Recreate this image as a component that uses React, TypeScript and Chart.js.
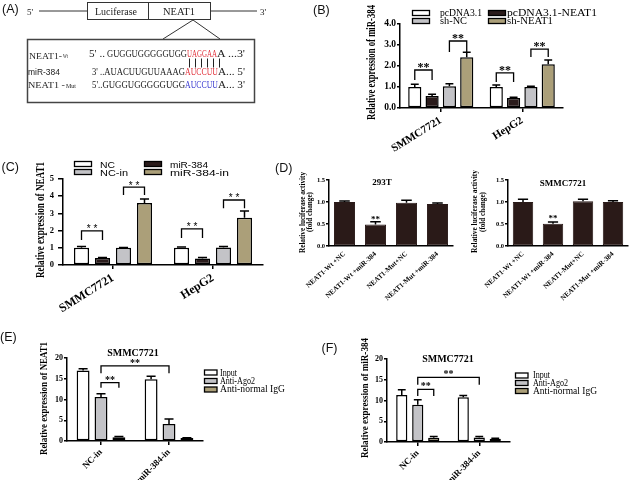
import React, { useEffect, useRef } from 'react';
import { Chart, registerables } from 'chart.js';

Chart.register(...registerables);

const SERIF = '"Liberation Serif", "Times New Roman", serif';
const SANS = '"Liberation Sans", Arial, sans-serif';

const WHITE = '#ffffff';
const BLACK = '#2a1b1b';
const GREY = '#c3c3c7';
const TAN = '#ab9f79';
const DARK = '#2a1a18';

// ---------------- Panel B data ----------------
const bCells = ['SMMC7721', 'HepG2'];
const bSeriesNames = ['pcDNA3.1', 'pcDNA3.1-NEAT1', 'sh-NC', 'sh-NEAT1'];
const bPcdna = [1.0, 1.0];
const bPcdnaErr = [0.13, 0.1];
const bPcdnaNeat1 = [0.57, 0.48];
const bPcdnaNeat1Err = [0.08, 0.03];
const bShNC = [1.03, 1.0];
const bShNCErr = [0.13, 0.03];
const bShNeat1 = [2.42, 2.08];
const bShNeat1Err = [0.23, 0.21];
const bBrackets = [
  { a: [0, 0], b: [1, 0], y: 1.81, leg: 1.33 },
  { a: [2, 0], b: [3, 0], y: 3.19, leg: 2.67 },
  { a: [0, 1], b: [1, 1], y: 1.67, leg: 1.24 },
  { a: [2, 1], b: [3, 1], y: 2.8, leg: 2.43 },
];

// ---------------- Panel C data ----------------
const cCells = ['SMMC7721', 'HepG2'];
const cSeriesNames = ['NC', 'miR-384', 'NC-in', 'miR-384-in'];
const cNC = [1.0, 1.0];
const cNCErr = [0.07, 0.04];
const cMiR = [0.4, 0.38];
const cMiRErr = [0.03, 0.05];
const cNCin = [1.0, 1.02];
const cNCinErr = [0.02, 0.06];
const cMiRin = [3.6, 2.74];
const cMiRinErr = [0.23, 0.4];
const cBrackets = [
  { a: [0, 0], b: [1, 0], y: 1.98, leg: 1.45 },
  { a: [2, 0], b: [3, 0], y: 4.53, leg: 4.07 },
  { a: [0, 1], b: [1, 1], y: 2.1, leg: 1.57 },
  { a: [2, 1], b: [3, 1], y: 3.78, leg: 3.3 },
];

// ---------------- Panel D data ----------------
const dGroups = ['NEAT1-Wt +NC', 'NEAT1-Wt +miR-384', 'NEAT1-Mut+NC', 'NEAT1-Mut +miR-384'];
const d293T = [1.0, 0.49, 0.985, 0.955];
const d293TErr = [0.025, 0.06, 0.055, 0.025];
const dSmmc = [1.0, 0.505, 1.015, 1.0];
const dSmmcErr = [0.06, 0.04, 0.045, 0.03];

// ---------------- Panel E / F data ----------------
const ripGroups = ['NC-in', 'miR-384-in'];
const ripSeriesNames = ['Input', 'Anti-Ago2', 'Anti-normal IgG'];
const eInput = [17.0, 14.9];
const eInputErr = [0.4, 0.7];
const eAgo2 = [10.6, 4.1];
const eAgo2Err = [0.8, 1.2];
const eIgG = [0.9, 0.7];
const eIgGErr = [0.2, 0.1];
const eBrackets = [
  { a: [1, 0], b: [1, 1], y: 18.1, leg: 16.3 },
  { a: [1, 0], b: [2, 0], y: 14.05, leg: 12.85 },
];
const fInput = [11.3, 10.8];
const fInputErr = [1.3, 0.4];
const fAgo2 = [9.0, 1.1];
const fAgo2Err = [1.2, 0.2];
const fIgG = [1.0, 0.8];
const fIgGErr = [0.3, 0.1];
const fBrackets = [
  { a: [1, 0], b: [1, 1], y: 15.55, leg: 13.8 },
  { a: [1, 0], b: [2, 0], y: 12.7, leg: 11.07 },
];

// ---------------- plugin ----------------
const extras = {
  id: 'extras',
  afterDraw(chart: any, _a: any, o: any) {
    const ctx = chart.ctx;
    const ys = chart.scales.y;
    const ox = o.ox || 0;
    const oy = o.oy || 0;
    ctx.save();
    ctx.strokeStyle = '#000';
    ctx.fillStyle = '#000';
    (o.errors || []).forEach((errs: number[], di: number) => {
      const meta = chart.getDatasetMeta(di);
      const data = chart.data.datasets[di].data;
      meta.data.forEach((bar: any, i: number) => {
        const e = errs[i];
        if (e == null) return;
        const y0 = ys.getPixelForValue(data[i]);
        const y1 = ys.getPixelForValue(data[i] + e);
        const half = bar.width * (o.capFrac ?? 0.3);
        ctx.lineWidth = o.errLine ?? 1.5;
        ctx.beginPath();
        ctx.moveTo(bar.x, y0);
        ctx.lineTo(bar.x, y1);
        ctx.moveTo(bar.x - half, y1);
        ctx.lineTo(bar.x + half, y1);
        ctx.stroke();
      });
    });
    (o.brackets || []).forEach((b: any) => {
      const xa = chart.getDatasetMeta(b.a[0]).data[b.a[1]].x;
      const xb = chart.getDatasetMeta(b.b[0]).data[b.b[1]].x;
      const yh = ys.getPixelForValue(b.y);
      const yl = ys.getPixelForValue(b.leg);
      ctx.lineWidth = o.bracketLine ?? 1.3;
      ctx.beginPath();
      ctx.moveTo(xa, yl);
      ctx.lineTo(xa, yh);
      ctx.lineTo(xb, yh);
      ctx.lineTo(xb, yl);
      ctx.stroke();
      ctx.font = o.starFont;
      ctx.textAlign = 'center';
      ctx.textBaseline = 'alphabetic';
      ctx.fillText(o.starText ?? '**', (xa + xb) / 2, yh + (o.starGap ?? 0));
    });
    (o.stars || []).forEach((s: any) => {
      const bar = chart.getDatasetMeta(s.ds).data[s.idx];
      ctx.font = o.starFont;
      ctx.textAlign = 'center';
      ctx.textBaseline = 'alphabetic';
      ctx.fillText(s.text, bar.x, ys.getPixelForValue(s.y));
    });
    (o.titles || []).forEach((t: any) => {
      ctx.font = t.font;
      ctx.textAlign = 'center';
      ctx.textBaseline = 'middle';
      ctx.fillText(t.text, t.x - ox, t.y - oy);
    });
    (o.ytitles || []).forEach((t: any) => {
      ctx.save();
      ctx.translate(t.x - ox, t.cy - oy);
      ctx.rotate(-Math.PI / 2);
      ctx.font = t.font;
      const w = ctx.measureText(t.text).width;
      ctx.scale(t.len / w, 1);
      ctx.textAlign = 'center';
      ctx.textBaseline = 'middle';
      ctx.fillText(t.text, 0, 0);
      ctx.restore();
    });
    ctx.restore();
  },
};

type Series = { name: string; data: number[]; err: number[]; color: string };

function makeConfig(p: any) {
  return {
    type: 'bar',
    data: {
      labels: p.labels,
      datasets: p.series.map((s: Series) => ({
        label: s.name,
        data: s.data,
        backgroundColor: s.color,
        borderColor: p.borderColor ?? '#000',
        borderWidth: p.borderWidth ?? 1.5,
        borderSkipped: false,
        categoryPercentage: p.cat,
        barPercentage: p.bar,
      })),
    },
    options: {
      responsive: false,
      animation: false,
      devicePixelRatio: 1,
      events: [],
      layout: { padding: { top: p.padTop, right: p.padRight, left: 0, bottom: 0 } },
      plugins: {
        legend: { display: false },
        tooltip: { enabled: false },
        extras: {
          ox: p.x,
          oy: p.y,
          errors: p.series.map((s: Series) => s.err),
          capFrac: p.capFrac,
          brackets: p.brackets,
          stars: p.stars,
          starFont: p.starFont,
          starText: p.starText,
          starGap: p.starGap,
          titles: p.titles,
          ytitles: p.ytitles,
        },
      },
      scales: {
        x: {
          type: 'category',
          grid: {
            offset: false,
            drawOnChartArea: false,
            drawTicks: p.xTicks !== false,
            tickLength: 4,
            color: '#000',
            lineWidth: 1.5,
          },
          border: { color: '#000', width: 1.5 },
          ticks: {
            color: '#000',
            autoSkip: false,
            minRotation: p.rot,
            maxRotation: p.rot,
            padding: p.xPad ?? 2,
            font: { family: SERIF, size: p.xFont, weight: 'bold' },
          },
          afterFit: (s: any) => {
            s.height = p.xh;
          },
        },
        y: {
          type: 'linear',
          min: p.yMin,
          max: p.yMax,
          grid: {
            drawOnChartArea: false,
            drawTicks: true,
            tickLength: p.yTickLen ?? 4,
            color: '#000',
            lineWidth: 1.5,
          },
          border: { color: '#000', width: 1.5 },
          ticks: {
            stepSize: p.yStep,
            color: '#000',
            padding: p.yPad ?? 1,
            font: { family: SERIF, size: p.yFont, weight: 'bold' },
            callback: (v: number) => (p.yDec ? v.toFixed(p.yDec) : String(v)),
          },
          afterFit: (s: any) => {
            s.width = p.yw;
          },
        },
      },
    },
    plugins: [extras],
  };
}

const PANEL_B = {
  id: 'B', x: 315, y: 0, w: 255, h: 165, yw: 85, xh: 57, padTop: 24, padRight: 7,
  labels: bCells,
  series: [
    { name: bSeriesNames[0], data: bPcdna, err: bPcdnaErr, color: WHITE },
    { name: bSeriesNames[1], data: bPcdnaNeat1, err: bPcdnaNeat1Err, color: BLACK },
    { name: bSeriesNames[2], data: bShNC, err: bShNCErr, color: GREY },
    { name: bSeriesNames[3], data: bShNeat1, err: bShNeat1Err, color: TAN },
  ],
  cat: 0.85, bar: 0.76, capFrac: 0.3,
  yMin: 0, yMax: 4, yStep: 0.5, yDec: 1, yFont: 9.5, yTickLen: 3, yPad: 1,
  rot: 32, xFont: 11,
  brackets: bBrackets, starFont: `bold 12px ${SERIF}`, starGap: 1,
  ytitles: [{ text: 'Relative expression of miR-384', x: 372, cy: 62.5, len: 115, font: `bold 12px ${SERIF}` }],
};

const PANEL_C = {
  id: 'C', x: 0, y: 150, w: 275, h: 165, yw: 63, xh: 50, padTop: 29, padRight: 12,
  labels: cCells,
  series: [
    { name: cSeriesNames[0], data: cNC, err: cNCErr, color: WHITE },
    { name: cSeriesNames[1], data: cMiR, err: cMiRErr, color: BLACK },
    { name: cSeriesNames[2], data: cNCin, err: cNCinErr, color: GREY },
    { name: cSeriesNames[3], data: cMiRin, err: cMiRinErr, color: TAN },
  ],
  cat: 0.84, bar: 0.72, capFrac: 0.3,
  yMin: 0, yMax: 5, yStep: 1, yDec: 0, yFont: 8.5, yTickLen: 5, yPad: 4,
  rot: 32, xFont: 12,
  brackets: cBrackets, starFont: `10px ${SANS}`, starText: '* *', starGap: 1.5,
  ytitles: [{ text: 'Relative expression of NEAT1', x: 40.5, cy: 220, len: 116, font: `bold 13px ${SERIF}` }],
};

const PANEL_D1 = {
  id: 'D1', x: 295, y: 165, w: 162, h: 155, yw: 34, xh: 74, padTop: 15, padRight: 4,
  labels: dGroups,
  series: [{ name: '293T', data: d293T, err: d293TErr, color: DARK }],
  borderColor: DARK, borderWidth: 1,
  cat: 0.68, bar: 1, capFrac: 0.25,
  yMin: 0, yMax: 1.5, yStep: 0.5, yDec: 1, yFont: 6.5, yTickLen: 3, yPad: 1,
  rot: 42, xFont: 7, xTicks: false, xPad: 4,
  stars: [{ ds: 0, idx: 1, y: 0.55, text: '**' }], starFont: `bold 9px ${SERIF}`,
  titles: [{ text: '293T', x: 382, y: 183, font: `bold 9px ${SERIF}` }],
  ytitles: [
    { text: 'Relative luciferase activity', x: 303.5, cy: 212.5, len: 81, font: `bold 7.5px ${SERIF}` },
    { text: '(fold change)', x: 310.5, cy: 212, len: 40, font: `bold 7.5px ${SERIF}` },
  ],
};

const PANEL_D2 = {
  id: 'D2', x: 466, y: 165, w: 166, h: 155, yw: 42, xh: 74, padTop: 15, padRight: 4,
  labels: dGroups,
  series: [{ name: 'SMMC7721', data: dSmmc, err: dSmmcErr, color: DARK }],
  borderColor: DARK, borderWidth: 1,
  cat: 0.68, bar: 1, capFrac: 0.25,
  yMin: 0, yMax: 1.5, yStep: 0.5, yDec: 1, yFont: 6.5, yTickLen: 3, yPad: 1,
  rot: 42, xFont: 7, xTicks: false, xPad: 4,
  stars: [{ ds: 0, idx: 1, y: 0.57, text: '**' }], starFont: `bold 9px ${SERIF}`,
  titles: [{ text: 'SMMC7721', x: 563, y: 184, font: `bold 9px ${SERIF}` }],
  ytitles: [
    { text: 'Relative luciferase activity', x: 475, cy: 211.5, len: 83, font: `bold 7.5px ${SERIF}` },
    { text: '(fold change)', x: 483, cy: 212, len: 40, font: `bold 7.5px ${SERIF}` },
  ],
};

const PANEL_E = {
  id: 'E', x: 0, y: 335, w: 210, h: 145, yw: 67, xh: 39, padTop: 23, padRight: 7,
  labels: ripGroups,
  series: [
    { name: ripSeriesNames[0], data: eInput, err: eInputErr, color: WHITE },
    { name: ripSeriesNames[1], data: eAgo2, err: eAgo2Err, color: GREY },
    { name: ripSeriesNames[2], data: eIgG, err: eIgGErr, color: TAN },
  ],
  cat: 0.79, bar: 0.72, capFrac: 0.35,
  yMin: 0, yMax: 20, yStep: 5, yDec: 0, yFont: 8, yTickLen: 3, yPad: 1,
  rot: 45, xFont: 9,
  brackets: eBrackets, starFont: `bold 10px ${SERIF}`, starGap: 0,
  titles: [{ text: 'SMMC7721', x: 133, y: 353, font: `bold 10px ${SERIF}` }],
  ytitles: [{ text: 'Relative expression of NEAT1', x: 44.5, cy: 398.5, len: 113, font: `bold 11px ${SERIF}` }],
};

const PANEL_F = {
  id: 'F', x: 320, y: 335, w: 195, h: 145, yw: 67, xh: 38, padTop: 24, padRight: 5,
  labels: ripGroups,
  series: [
    { name: ripSeriesNames[0], data: fInput, err: fInputErr, color: WHITE },
    { name: ripSeriesNames[1], data: fAgo2, err: fAgo2Err, color: GREY },
    { name: ripSeriesNames[2], data: fIgG, err: fIgGErr, color: TAN },
  ],
  cat: 0.78, bar: 0.7, capFrac: 0.35,
  yMin: 0, yMax: 20, yStep: 5, yDec: 0, yFont: 8, yTickLen: 3, yPad: 1,
  rot: 45, xFont: 9,
  brackets: fBrackets, starFont: `bold 10px ${SERIF}`, starGap: 0,
  titles: [{ text: 'SMMC7721', x: 448, y: 359, font: `bold 10px ${SERIF}` }],
  ytitles: [{ text: 'Relative expression of miR-384', x: 365, cy: 398, len: 120, font: `bold 11px ${SERIF}` }],
};

const PANELS = [PANEL_B, PANEL_C, PANEL_D1, PANEL_D2, PANEL_E, PANEL_F];

function BarPanel({ p }: { p: any }) {
  const ref = useRef<HTMLCanvasElement>(null);
  useEffect(() => {
    const chart = new Chart(ref.current as HTMLCanvasElement, makeConfig(p) as any);
    return () => chart.destroy();
  }, []);
  return (
    <canvas
      ref={ref}
      width={p.w}
      height={p.h}
      style={{ position: 'absolute', left: p.x, top: p.y, width: p.w, height: p.h }}
    />
  );
}

function T(props: any) {
  const { children, len, ...rest } = props;
  return (
    <text {...rest} textLength={len} lengthAdjust="spacingAndGlyphs">
      {children}
    </text>
  );
}

function LegendBox({ x, y, w, h, color }: any) {
  return <rect x={x} y={y} width={w} height={h} fill={color} stroke="#000" strokeWidth={1.3} />;
}

function PanelA() {
  const ink = '#222';
  const red = '#e2323c';
  const blue = '#3a3ad0';
  const pairs = [189.5, 195.5, 201.5, 207.5, 213.5, 219.5];
  return (
    <g fontFamily={SERIF} fill={ink}>
      <text x={27} y={15} fontSize={9}>5'</text>
      <line x1={39} y1={11} x2={87} y2={11} stroke="#333" strokeWidth={1} />
      <rect x={87.5} y={2.5} width={61} height={17} fill="#fff" stroke="#333" strokeWidth={1} />
      <rect x={148.5} y={2.5} width={62} height={17} fill="#fff" stroke="#333" strokeWidth={1} />
      <T x={95} y={14.5} fontSize={10} len={42}>Luciferase</T>
      <T x={163} y={14.5} fontSize={10} len={32}>NEAT1</T>
      <line x1={211} y1={11} x2={257} y2={11} stroke="#333" strokeWidth={1} />
      <text x={260} y={15} fontSize={9}>3'</text>
      <polyline points="163,39 193,20 220,39" fill="none" stroke="#333" strokeWidth={1} />
      <rect x={27.5} y={39.5} width={227} height={63} fill="none" stroke="#444" strokeWidth={1.5} />

      <T x={29} y={59} fontSize={9} len={33}>NEAT1-</T>
      <T x={63} y={58} fontSize={6} len={5}>Wt</T>
      <T x={89} y={57} fontSize={11} len={16}>5' ..</T>
      <T x={107} y={57} fontSize={11} len={80}>GUGGUGGGGGUGG</T>
      <T x={187} y={57} fontSize={11} len={30} fill={red}>UAGGAA</T>
      <T x={217} y={57} fontSize={11} len={28}>A ...3'</T>

      {pairs.map((x) => (
        <line key={x} x1={x} y1={58.5} x2={x} y2={67.5} stroke={ink} strokeWidth={1} />
      ))}

      <T x={28} y={75} fontSize={9} len={32} fontFamily={SANS}>miR-384</T>
      <T x={92} y={75} fontSize={11} len={93}>3' ..AUACUUGUUAAAG</T>
      <T x={185} y={75} fontSize={11} len={33} fill={red}>AUCCUU</T>
      <T x={218} y={75} fontSize={11} len={27}>A... 5'</T>

      <T x={28} y={88} fontSize={9} len={37}>NEAT1 -</T>
      <T x={66} y={88} fontSize={6} len={10}>Mut</T>
      <T x={92} y={88} fontSize={11} len={93}>5'..GUGGUGGGGGUGG</T>
      <T x={185} y={88} fontSize={11} len={33} fill={blue}>AUCCUU</T>
      <T x={218} y={88} fontSize={11} len={27}>A... 3'</T>
    </g>
  );
}

export default function App() {
  return (
    <div
      style={{
        position: 'fixed',
        left: 0,
        top: 0,
        width: 633,
        height: 480,
        background: '#fff',
        overflow: 'hidden',
      }}
    >
      {PANELS.map((p) => (
        <BarPanel key={p.id} p={p} />
      ))}
      <svg
        width={633}
        height={480}
        style={{ position: 'absolute', left: 0, top: 0, pointerEvents: 'none' }}
      >
        <PanelA />
        {/* panel letters */}
        <g fontFamily={SANS} fontSize={12.5} fill="#111">
          <text x={2} y={12.5}>(A)</text>
          <text x={313} y={14}>(B)</text>
          <text x={1.5} y={170.7}>(C)</text>
          <text x={275} y={172.4}>(D)</text>
          <text x={0} y={340.7}>(E)</text>
          <text x={321.5} y={352.4}>(F)</text>
        </g>

        {/* legend B */}
        <g fontFamily={SERIF} fontSize={9.5} fill="#000">
          <LegendBox x={412.5} y={10.5} w={17} h={5} color={WHITE} />
          <LegendBox x={412.5} y={18.5} w={17} h={5} color={GREY} />
          <LegendBox x={488.5} y={10.5} w={17} h={5} color={BLACK} />
          <LegendBox x={488.5} y={18.5} w={17} h={5} color={TAN} />
          <T x={440} y={15.5} len={42}>{bSeriesNames[0]}</T>
          <T x={440} y={23.5} len={27}>{bSeriesNames[2]}</T>
          <T x={507} y={15.5} len={90}>{bSeriesNames[1]}</T>
          <T x={507} y={23.5} len={46}>{bSeriesNames[3]}</T>
        </g>

        {/* legend C */}
        <g fontFamily={SANS} fontSize={9} fill="#000">
          <LegendBox x={74.5} y={161.5} w={17} h={5} color={WHITE} />
          <LegendBox x={74.5} y={169.5} w={17} h={5} color={GREY} />
          <LegendBox x={144.5} y={161.5} w={17} h={5} color={BLACK} />
          <LegendBox x={144.5} y={169.5} w={17} h={5} color={TAN} />
          <T x={100} y={167.5} len={15}>{cSeriesNames[0]}</T>
          <T x={100} y={175.5} len={28}>{cSeriesNames[2]}</T>
          <T x={170} y={167.5} len={38}>{cSeriesNames[1]}</T>
          <T x={170} y={175.5} len={59}>{cSeriesNames[3]}</T>
        </g>

        {/* legend E */}
        <g fontFamily={SERIF} fontSize={9.5} fill="#000">
          <LegendBox x={204.5} y={370} w={12.5} h={5} color={WHITE} />
          <LegendBox x={204.5} y={378.5} w={12.5} h={5} color={GREY} />
          <LegendBox x={204.5} y={387} w={12.5} h={5} color={TAN} />
          <T x={220} y={375.5} len={17}>{ripSeriesNames[0]}</T>
          <T x={220} y={383.5} len={35}>{ripSeriesNames[1]}</T>
          <T x={220} y={391.5} len={65}>{ripSeriesNames[2]}</T>
        </g>

        {/* legend F */}
        <g fontFamily={SERIF} fontSize={9.5} fill="#000">
          <LegendBox x={515.5} y={373} w={12.5} h={5} color={WHITE} />
          <LegendBox x={515.5} y={380.5} w={12.5} h={5} color={GREY} />
          <LegendBox x={515.5} y={388.5} w={12.5} h={5} color={TAN} />
          <T x={533} y={378} len={17}>{ripSeriesNames[0]}</T>
          <T x={533} y={386} len={35}>{ripSeriesNames[1]}</T>
          <T x={533} y={394} len={64}>{ripSeriesNames[2]}</T>
        </g>
      </svg>
    </div>
  );
}
